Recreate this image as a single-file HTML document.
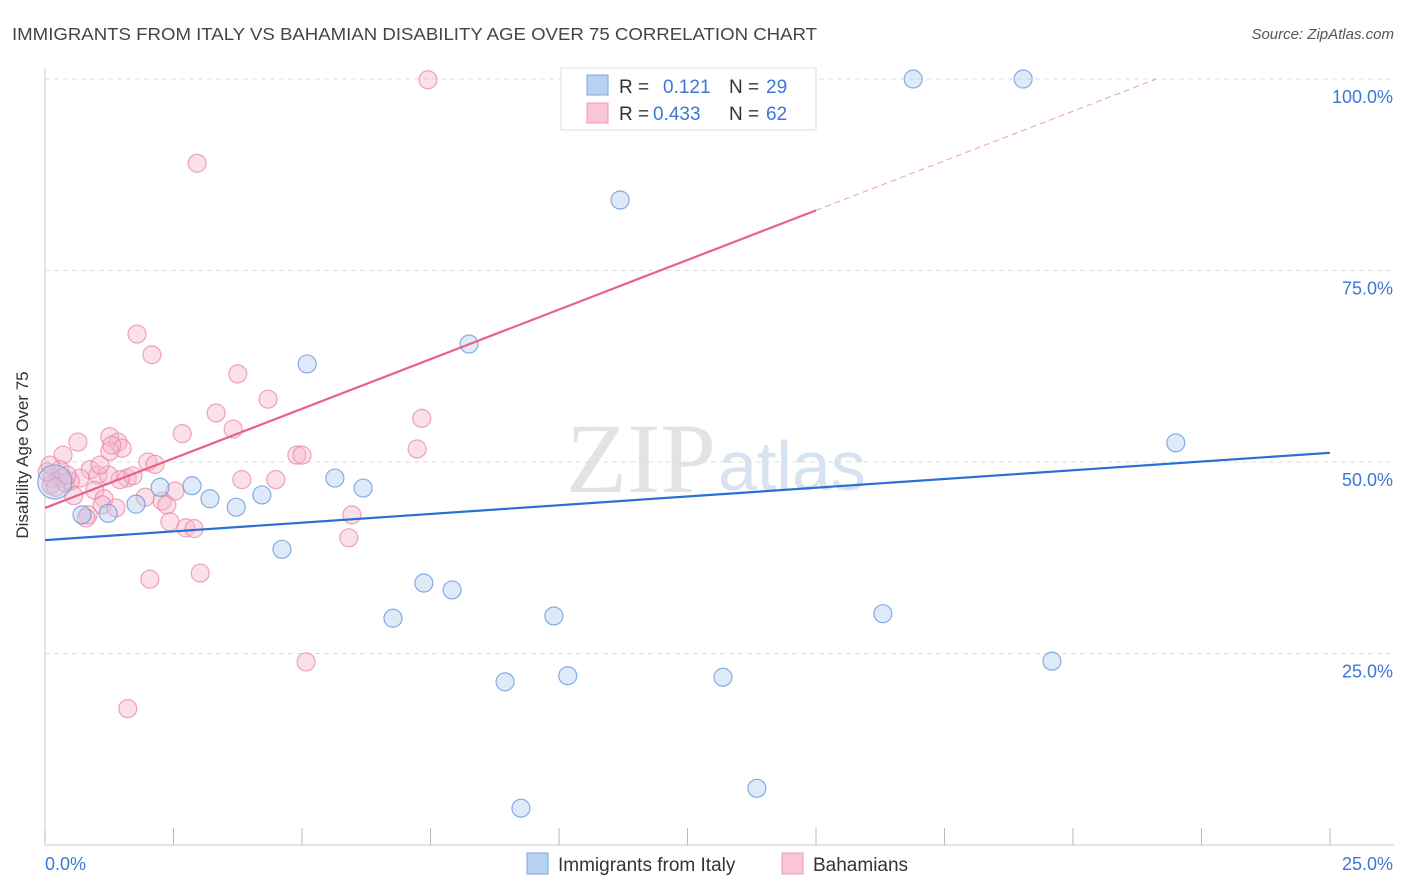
<!DOCTYPE html>
<html><head><meta charset="utf-8">
<style>
body{margin:0;background:#fff;font-family:"Liberation Sans",sans-serif;}
#wrap{position:relative;width:1406px;height:892px;overflow:hidden;}
</style></head>
<body>
<div id="wrap">
<svg id="chart" width="1406" height="892" style="position:absolute;left:0;top:0">
  <text x="12" y="40" font-size="17.5" fill="#444" textLength="805" lengthAdjust="spacingAndGlyphs">IMMIGRANTS FROM ITALY VS BAHAMIAN DISABILITY AGE OVER 75 CORRELATION CHART</text>
  <text x="1394" y="39" font-size="15" fill="#555" font-style="italic" text-anchor="end">Source: ZipAtlas.com</text>
  <text x="716" y="492" font-size="100" fill="#e3e3e3" text-anchor="end" font-family="Liberation Serif">ZIP</text>
  <text x="718" y="490" font-size="70" fill="#d7e3f3">atlas</text>
  <g id="grid"></g>
  <g id="points"></g>
  <g id="lines"></g>
  <text x="28" y="455" font-size="17" fill="#333" text-anchor="middle" transform="rotate(-90 28 455)">Disability Age Over 75</text>
  <g>
    <rect x="561" y="68" width="255" height="62" fill="#fff" stroke="#ddd"/>
    <rect x="587" y="75" width="21" height="20" fill="#b8d1f3" stroke="#7aa6e3"/>
    <rect x="587" y="103" width="21" height="20" fill="#f9c6d5" stroke="#ee98b4"/>
    <text x="619" y="93" font-size="19" fill="#333">R =</text>
    <text x="663" y="93" font-size="19" fill="#3a78d4">0.121</text>
    <text x="729" y="93" font-size="19" fill="#333">N =</text>
    <text x="766" y="93" font-size="19" fill="#3a78d4">29</text>
    <text x="619" y="120" font-size="19" fill="#333">R =</text>
    <text x="653" y="120" font-size="19" fill="#3a78d4">0.433</text>
    <text x="729" y="120" font-size="19" fill="#333">N =</text>
    <text x="766" y="120" font-size="19" fill="#3a78d4">62</text>
  </g>
  <g>
    <rect x="527" y="853" width="21" height="21" fill="#b8d1f3" stroke="#7aa6e3"/>
    <text x="558" y="871" font-size="19" fill="#333">Immigrants from Italy</text>
    <rect x="782" y="853" width="21" height="21" fill="#f9c6d5" stroke="#ee98b4"/>
    <text x="813" y="871" font-size="19" fill="#333">Bahamians</text>
  </g>
</svg>
</div>
<script>
const xTickValues=[0,2.5,5,7.5,10,12.5,15,17.5,20,22.5,25];
const yTickValues=[25,50,75,100];
const yTickLabels=["25.0%","50.0%","75.0%","100.0%"];
const xEndLabels=["0.0%","25.0%"];
const italyX=[16.89,19.03,11.19,8.25,5.10,22.00,5.64,6.19,2.86,2.24,3.21,4.22,3.72,1.77,0.72,1.23,4.61,7.37,7.92,6.77,9.90,16.30,19.59,8.95,10.17,13.19,9.26,13.85,0.19];
const italyY=[100,100,84.2,65.4,62.8,52.5,47.9,46.6,46.9,46.7,45.2,45.7,44.1,44.5,43.1,43.3,38.6,34.2,33.3,29.6,29.9,30.2,24.0,21.3,22.1,21.9,4.8,7.4,47.4];
const bahX=[7.45,2.96,1.79,2.08,3.75,4.34,3.33,7.33,2.67,3.66,0.64,1.26,1.42,1.50,1.26,7.24,0.35,4.90,5.00,2.00,2.14,0.88,1.60,1.71,1.03,0.68,0.29,0.49,0.14,3.83,4.49,0.12,0.97,0.56,1.15,1.95,2.28,2.37,1.11,1.38,0.84,0.80,2.43,2.74,2.90,5.97,5.91,2.04,3.02,5.08,1.61,0.29,0.39,0.21,1.46,0.04,0.10,2.53,1.23,0.43,1.30,1.07];
const bahY=[99.9,89.0,66.7,64.0,61.5,58.2,56.4,55.7,53.7,54.3,52.6,53.3,52.6,51.8,51.4,51.7,50.9,50.9,50.9,50.0,49.7,49.0,47.9,48.2,48.3,47.9,47.9,47.5,47.9,47.7,47.7,47.0,46.3,45.6,45.2,45.4,44.9,44.4,44.4,44.0,43.1,42.7,42.2,41.4,41.3,43.1,40.1,34.7,35.5,23.9,17.8,49.0,47.3,46.7,47.7,48.7,49.6,46.2,48.3,48.3,52.2,49.6];
const italyTrend=[39.8,51.2];
const bahTrend=[44.0,2.59];
const italyBigIndex=28;

const NS="http://www.w3.org/2000/svg";
const X=v=>45+v/25*1285;
const Y=v=>845-v/100*766;
function mk(tag,attrs,parent){const e=document.createElementNS(NS,tag);for(const k in attrs)e.setAttribute(k,attrs[k]);parent.appendChild(e);return e;}
const grid=document.getElementById('grid'),lines=document.getElementById('lines'),pts=document.getElementById('points');
const axis=mk('line',{x1:45,y1:68,x2:45,y2:845,stroke:'#ccc'},grid);


const xaxis=mk('line',{x1:45,y1:845,x2:1394,y2:845,stroke:'#ccc'},grid);


yTickValues.forEach((v,i)=>{
  const g=mk('line',{x1:45,y1:Y(v),x2:1394,y2:Y(v),stroke:'#ddd','stroke-dasharray':'5,4'},grid);
  
  
  const t=mk('text',{x:1393,y:Y(v)+24,'font-size':18,fill:'#3a78d4','text-anchor':'end'},grid);
  t.textContent=yTickLabels[i];
  
  
});
xTickValues.forEach(v=>{
  const t=mk('line',{x1:X(v),y1:828,x2:X(v),y2:845,stroke:'#bbb'},grid);
  
  
});
const xl0=mk('text',{x:45,y:870,'font-size':18,fill:'#3a78d4'},grid);xl0.textContent=xEndLabels[0];


const xl1=mk('text',{x:1393,y:870,'font-size':18,fill:'#3a78d4','text-anchor':'end'},grid);xl1.textContent=xEndLabels[1];



function pt(x,y,r,fill,stroke){
  return mk('circle',{cx:X(x),cy:Y(y),r:r,fill:fill,'fill-opacity':0.42,stroke:stroke,'stroke-opacity':0.75,'stroke-width':1.2},pts);
}
bahX.forEach((x,i)=>{
  const c=pt(x,bahY[i],9,'#f7b6ca','#e887a6');
  
  
});
italyX.forEach((x,i)=>{
  const c=pt(x,italyY[i],i===italyBigIndex?17:9,'#b3cdf1','#5f94dc');
  
  
});
const bl=mk('line',{x1:X(0),y1:Y(italyTrend[0]),x2:X(25),y2:Y(italyTrend[1]),stroke:'#2a6fd4','stroke-width':2.2},lines);


const bx=15, bEnd=(100-bahTrend[0])/bahTrend[1];
const pl=mk('line',{x1:X(0),y1:Y(bahTrend[0]),x2:X(bx),y2:Y(bahTrend[0]+bahTrend[1]*bx),stroke:'#e8608c','stroke-width':2.2},lines);


const pd=mk('line',{x1:X(bx),y1:Y(bahTrend[0]+bahTrend[1]*bx),x2:X(bEnd),y2:Y(100),stroke:'#e8a0b8','stroke-width':1,'stroke-dasharray':'6,4'},lines);


</script>
</body></html>
